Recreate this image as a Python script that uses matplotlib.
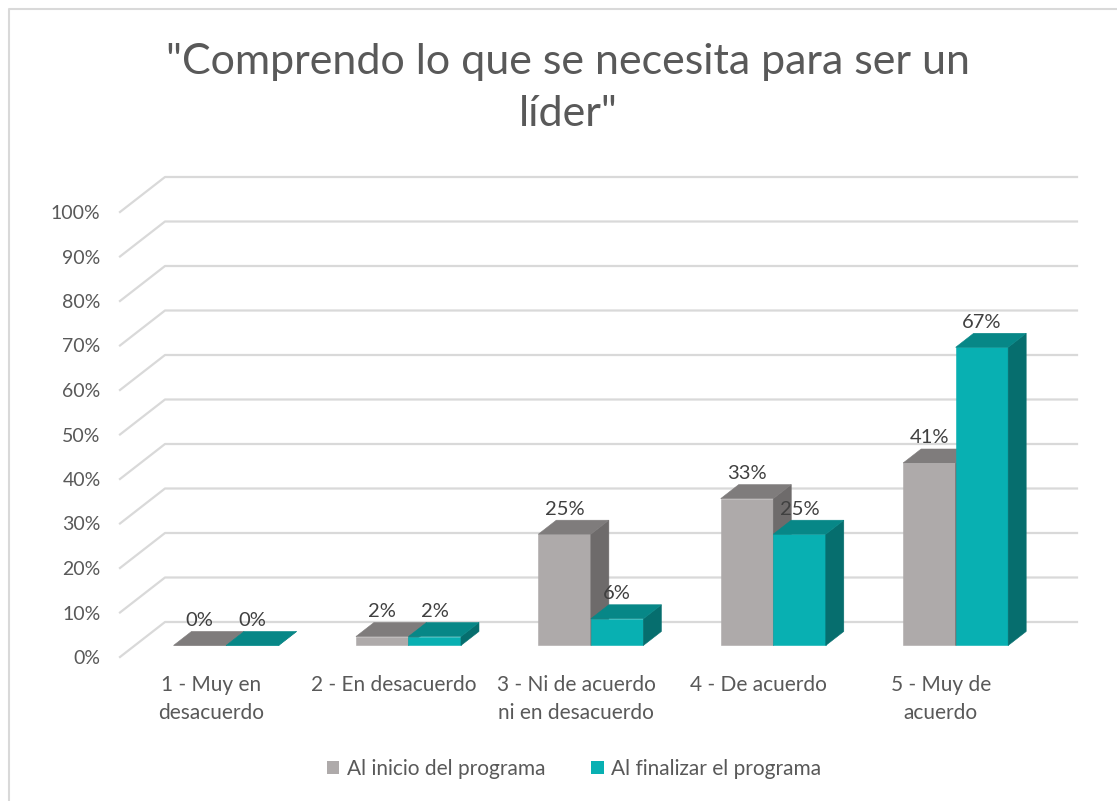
import matplotlib.pyplot as plt
from matplotlib.patches import Polygon, Patch
from matplotlib.lines import Line2D
from matplotlib.transforms import IdentityTransform

categories = ["1 - Muy en\ndesacuerdo", "2 - En desacuerdo",
              "3 - Ni de acuerdo\nni en desacuerdo", "4 - De acuerdo",
              "5 - Muy de\nacuerdo"]
inicio = [0, 2, 25, 33, 41]
final = [0, 2, 6, 25, 67]
series = ["Al inicio del programa", "Al finalizar el programa"]
yticks = [0, 10, 20, 30, 40, 50, 60, 70, 80, 90, 100]
title = '"Comprendo lo que se necesita para ser un\nlíder"'

plt.rcParams['font.family'] = ['Lato', 'DejaVu Sans']
TXT = '#595959'
GRID = '#d9d9d9'
# front / top / side shades for each series
GRAY = ('#aeaaaa', '#7f7c7c', '#6e6b6b')
TEAL = ('#08b0b2', '#078787', '#066e6e')

W, H = 1117, 801
fig = plt.figure(figsize=(W / 100, H / 100), dpi=100)
ax = fig.add_axes([120 / W, 1 - 657 / H, 912 / W, 445 / H])
ax.set_xlim(0, len(categories))
ax.set_ylim(0, 100)
ax.set_autoscale_on(False)
for s in ax.spines.values():
    s.set_visible(False)
ax.set_facecolor('none')

DEPTH = (45, 35)   # pixel shift from the floor front to the back wall
D0, D1 = 0.33, 0.73  # bar depth span


def proj(x, y, d):
    px, py = ax.transData.transform((x, y))
    return (px + d * DEPTH[0], py + d * DEPTH[1])


# gridlines on side and back wall
for t in yticks:
    pts = [proj(0, t, 0), proj(0, t, 1), proj(len(categories), t, 1)]
    ax.add_line(Line2D([p[0] for p in pts], [p[1] for p in pts],
                       transform=IdentityTransform(), color=GRID, lw=1.6,
                       clip_on=False, zorder=1))


def bar3d(x0, x1, v, cols):
    faces = [
        ([proj(x0, 0, D0), proj(x1, 0, D0), proj(x1, v, D0), proj(x0, v, D0)], cols[0]),
        ([proj(x1, 0, D0), proj(x1, 0, D1), proj(x1, v, D1), proj(x1, v, D0)], cols[2]),
        ([proj(x0, v, D0), proj(x1, v, D0), proj(x1, v, D1), proj(x0, v, D1)], cols[1]),
    ]
    for pts, c in faces:
        ax.add_patch(Polygon(pts, closed=True, facecolor=c, edgecolor=c, lw=0.4,
                             transform=IdentityTransform(), clip_on=False, zorder=2))


w = 0.288
for i in range(len(categories)):
    c = i + 0.5
    for vals, cols, x0 in ((inicio, GRAY, c - w), (final, TEAL, c)):
        v = vals[i]
        bar3d(x0, x0 + w, v, cols)
        ax.annotate(f"{v}%", xy=(x0 + w / 2, v),
                    xytext=(D0 * DEPTH[0], D0 * DEPTH[1] + 25),
                    textcoords='offset pixels', ha='center', va='center',
                    fontsize=14.5, color='#404040', zorder=3)

ax.set_yticks(yticks, [f"{t}%" for t in yticks])
ax.set_xticks([i + 0.5 for i in range(len(categories))], categories)
ax.tick_params(axis='y', length=0, pad=14, labelsize=14, labelcolor=TXT)
ax.tick_params(axis='x', length=0, pad=13, labelsize=15, labelcolor=TXT)
for lab in ax.get_xticklabels():
    lab.set_linespacing(1.5)

fig.text(568 / W, 1 - 88 / H, title, ha='center', va='center', fontsize=31,
         color=TXT, linespacing=1.45)

handles = [Patch(facecolor=GRAY[0]), Patch(facecolor=TEAL[0])]
fig.legend(handles, series, loc='center', bbox_to_anchor=(574 / W, 1 - 769 / H),
           ncol=2, frameon=False, fontsize=15, labelcolor=TXT,
           handlelength=0.6, handleheight=0.6, handletextpad=0.35, columnspacing=2.2)

# chart border (top and left visible)
fig.add_artist(Line2D([9 / W, 9 / W, 1], [0, 1 - 9 / H, 1 - 9 / H],
                      transform=fig.transFigure, color=GRID, lw=1.5))

fig.savefig('out.png', dpi=100)
